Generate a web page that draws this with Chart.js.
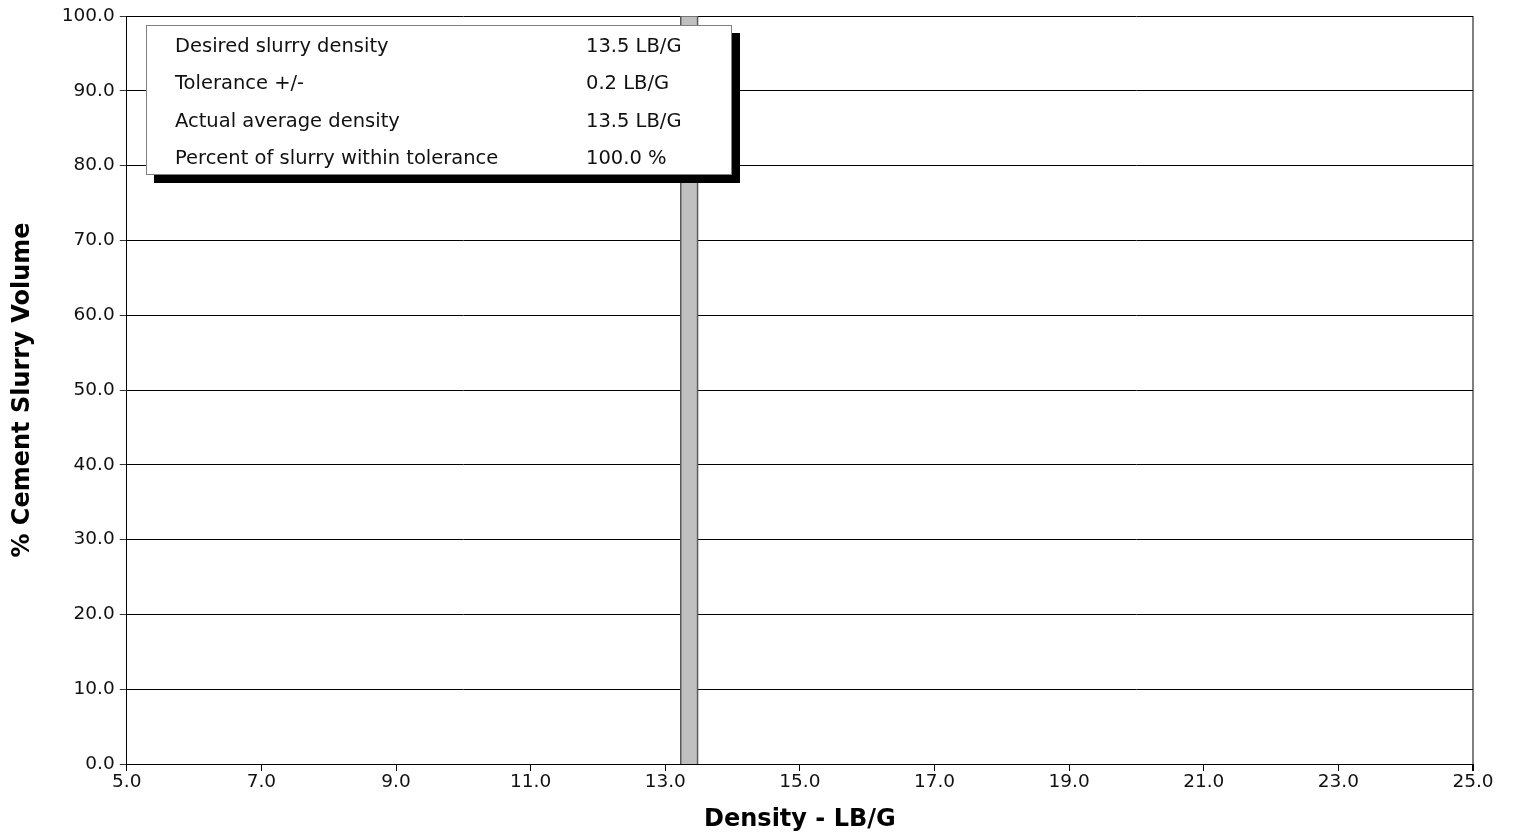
<!DOCTYPE html>
<html>
<head>
<meta charset="utf-8">
<script src="https://cdn.jsdelivr.net/npm/chart.js@4"></script>
<style>
  html, body { margin: 0; padding: 0; background: #fff; }
  #wrap { position: relative; width: 1515px; height: 835px; }
  canvas { display: block; }
  #info {
    position: absolute; left: 146px; top: 25px; width: 586px; height: 150px;
    box-sizing: border-box; background: #fff; border: 1px solid #808080;
    box-shadow: 8px 8px 0 #000; font-family: "DejaVu Sans", Verdana, sans-serif;
    font-size: 19.5px; color: #111;
  }
  #info .row { position: absolute; left: 28px; width: 540px; height: 22px; line-height: 22px; white-space: nowrap; }
  #info .row span.v { position: absolute; left: 411px; }
</style>
</head>
<body>
<div id="wrap">
  <canvas id="c" width="1515" height="835"></canvas>
  <div id="info"></div>
</div>
<script>
// ---- data ----
const binStart = [13.23];
const binEnd = [13.48];
const binValues = [100.0];
const xTicks = [5.0, 7.0, 9.0, 11.0, 13.0, 15.0, 17.0, 19.0, 21.0, 23.0, 25.0];
const yTicks = [0, 10, 20, 30, 40, 50, 60, 70, 80, 90, 100];
const infoLabels = ["Desired slurry density", "Tolerance +/-", "Actual average density", "Percent of slurry within tolerance"];
const infoValues = ["13.5 LB/G", "0.2 LB/G", "13.5 LB/G", "100.0 %"];

// info box
const info = document.getElementById('info');
const rowTops = [9, 46, 84, 121];
infoLabels.forEach((l, i) => {
  const r = document.createElement('div');
  r.className = 'row';
  r.style.top = rowTops[i] + 'px';
  r.appendChild(document.createTextNode(l));
  const v = document.createElement('span');
  v.className = 'v';
  v.textContent = infoValues[i];
  r.appendChild(v);
  info.appendChild(r);
});

// histogram bars as closed polygons
const barDatasets = binStart.map((s, i) => ({
  type: 'line',
  data: [{x: s, y: 0}, {x: s, y: binValues[i]}, {x: binEnd[i], y: binValues[i]}, {x: binEnd[i], y: 0}],
  borderColor: '#5a5a5a',
  borderWidth: 1.5,
  backgroundColor: '#c0c0c0',
  fill: 'origin',
  pointRadius: 0,
  tension: 0
}));

const font = {family: '"DejaVu Sans", Verdana, sans-serif', size: 18.5};
const titleFont = {family: '"DejaVu Sans", Verdana, sans-serif', size: 24, weight: 'bold'};

new Chart(document.getElementById('c'), {
  type: 'scatter',
  data: {datasets: barDatasets},
  options: {
    responsive: false,
    animation: false,
    events: [],
    layout: {padding: {left: 8, right: 42, top: 15, bottom: 1}},
    plugins: {legend: {display: false}, tooltip: {enabled: false}},
    scales: {
      x: {
        type: 'linear', min: 5, max: 25,
        afterBuildTicks: ax => { ax.ticks = xTicks.map(v => ({value: v})); },
        ticks: {color: '#111', font, callback: v => v.toFixed(1), maxRotation: 0, padding: 0},
        grid: {
          color: ctx => (ctx.tick && ctx.tick.value === 25) ? '#808080' : 'rgba(0,0,0,0)',
          lineWidth: ctx => (ctx.tick && ctx.tick.value === 25) ? 2 : 1,
          tickColor: '#000', tickLength: 7, drawOnChartArea: true
        },
        border: {color: '#000', width: 1},
        title: {display: true, text: 'Density - LB/G', color: '#000', font: titleFont, padding: {top: 12, bottom: 0}}
      },
      y: {
        min: 0, max: 100,
        afterBuildTicks: ax => { ax.ticks = yTicks.map(v => ({value: v})); },
        ticks: {color: '#111', font, callback: v => v.toFixed(1), padding: 5},
        grid: {color: '#000', lineWidth: 1, tickColor: '#333', tickLength: 7},
        border: {color: '#000', width: 1},
        title: {display: true, text: '% Cement Slurry Volume', color: '#000', font: titleFont, padding: {top: 0, bottom: 20}}
      }
    }
  }
});
</script>
</body>
</html>
